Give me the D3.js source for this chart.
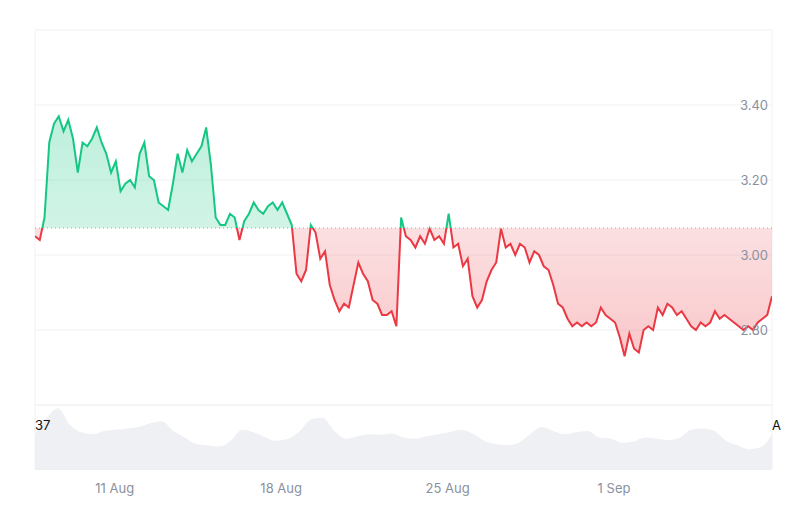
<!DOCTYPE html>
<html><head><meta charset="utf-8">
<script src="https://cdn.jsdelivr.net/npm/d3@7"></script>
<style>body{margin:0;background:#fff;font-family:Inter,"Noto Sans",sans-serif}</style>
</head><body><div id="chart"></div>
<script>
// price samples, evenly spaced between startTime and endTime
const startTime = new Date(2024, 7, 7, 16)
const endTime = new Date(2024, 8, 7, 16)
const prices = [3.05,3.04,3.10,3.30,3.35,3.37,3.33,3.36,3.31,3.22,3.30,3.29,3.31,3.34,3.30,3.27,3.22,3.25,3.17,3.19,3.20,3.18,3.27,3.30,3.21,3.20,3.14,3.13,3.12,3.19,3.27,3.22,3.28,3.25,3.27,3.29,3.34,3.24,3.10,3.08,3.08,3.11,3.10,3.04,3.09,3.11,3.14,3.12,3.11,3.13,3.14,3.12,3.14,3.11,3.08,2.95,2.93,2.96,3.08,3.06,2.99,3.01,2.92,2.88,2.85,2.87,2.86,2.92,2.98,2.95,2.93,2.88,2.87,2.84,2.84,2.85,2.81,3.10,3.05,3.04,3.02,3.05,3.03,3.07,3.04,3.05,3.03,3.11,3.02,3.03,2.97,2.99,2.89,2.86,2.88,2.93,2.96,2.98,3.07,3.02,3.03,3.00,3.03,3.02,2.98,3.01,3.00,2.97,2.96,2.92,2.87,2.86,2.83,2.81,2.82,2.81,2.82,2.81,2.82,2.86,2.84,2.83,2.82,2.78,2.73,2.79,2.75,2.74,2.80,2.81,2.80,2.86,2.84,2.87,2.86,2.84,2.85,2.83,2.81,2.80,2.82,2.81,2.82,2.85,2.83,2.84,2.83,2.82,2.81,2.80,2.81,2.80,2.82,2.83,2.84,2.89]
const basePrice = 3.072
// volume shape (relative), evenly spaced over the same range
const volumes = [55,80,95,70,58,55,60,62,64,66,72,75,60,50,40,38,36,45,62,58,50,45,48,60,78,80,60,48,52,55,54,56,50,48,52,55,58,62,56,45,40,38,42,55,66,60,55,58,60,50,48,42,44,50,48,46,50,62,64,60,45,38,32,35,55]
const yTicks = [2.80,3.00,3.20,3.40]
const xTicks = [new Date(2024,7,11), new Date(2024,7,18), new Date(2024,7,25), new Date(2024,8,1)]

const W = 800, H = 525, L = 35, R = 772, T = 30, B = 405, VB = 470
const step = (endTime - startTime) / (prices.length - 1)
const data = prices.map((v,i) => ({t: new Date(+startTime + i*step), v}))

const x = d3.scaleTime().domain([startTime, endTime]).range([L, R])
const y = d3.scaleLinear().domain([2.60, 3.60]).range([B, T])
const vx = d3.scaleLinear().domain([0, volumes.length-1]).range([L, R])
const vy = d3.scaleLinear().domain([0, 100]).range([VB, B])

const svg = d3.select("#chart").append("svg").attr("width", W).attr("height", H)
const defs = svg.append("defs")
const gg = defs.append("linearGradient").attr("id","gGreen").attr("x1",0).attr("x2",0).attr("y1",0).attr("y2",1)
gg.append("stop").attr("offset","0%").attr("stop-color","#16c784").attr("stop-opacity",0.28)
gg.append("stop").attr("offset","100%").attr("stop-color","#16c784").attr("stop-opacity",0.1)
const gr = defs.append("linearGradient").attr("id","gRed").attr("x1",0).attr("x2",0).attr("y1",0).attr("y2",1)
gr.append("stop").attr("offset","0%").attr("stop-color","#ea3943").attr("stop-opacity",0.05)
gr.append("stop").attr("offset","100%").attr("stop-color","#ea3943").attr("stop-opacity",0.28)
defs.append("clipPath").attr("id","above").append("rect").attr("x",L).attr("y",0).attr("width",R-L).attr("height",y(basePrice))
defs.append("clipPath").attr("id","below").append("rect").attr("x",L).attr("y",y(basePrice)).attr("width",R-L).attr("height",H)

// grid
svg.selectAll(".grid").data(yTicks.concat([3.60])).enter().append("line")
  .attr("x1",L).attr("x2",R).attr("y1",d=>y(d)).attr("y2",d=>y(d))
  .attr("stroke","#eff1f4").attr("stroke-width",1)
svg.append("line").attr("x1",L).attr("x2",R).attr("y1",B).attr("y2",B).attr("stroke","#e8eaee")
svg.append("line").attr("x1",L).attr("x2",L).attr("y1",T).attr("y2",VB).attr("stroke","#f1f2f4")
svg.append("line").attr("x1",R).attr("x2",R).attr("y1",T).attr("y2",VB).attr("stroke","#f1f2f4")

// volume
svg.append("path").datum(volumes)
  .attr("d", d3.area().x((d,i)=>vx(i)).y0(VB).y1(d=>vy(d)).curve(d3.curveMonotoneX))
  .attr("fill","#eef0f3")

// price fills
const area = d3.area().x(d=>x(d.t)).y0(y(basePrice)).y1(d=>y(d.v))
const line = d3.line().x(d=>x(d.t)).y(d=>y(d.v))
svg.append("path").datum(data).attr("d",area).attr("fill","url(#gGreen)").attr("clip-path","url(#above)")
svg.append("path").datum(data).attr("d",area).attr("fill","url(#gRed)").attr("clip-path","url(#below)")
svg.append("line").attr("x1",L).attr("x2",R).attr("y1",y(basePrice)).attr("y2",y(basePrice))
  .attr("stroke","#9ca3af").attr("stroke-width",1).attr("stroke-dasharray","1,3")
svg.append("path").datum(data).attr("d",line).attr("fill","none").attr("stroke","#16c784").attr("stroke-width",2).attr("clip-path","url(#above)")
svg.append("path").datum(data).attr("d",line).attr("fill","none").attr("stroke","#ea3943").attr("stroke-width",2).attr("clip-path","url(#below)")

// y labels
svg.selectAll(".yl").data(yTicks).enter().append("text")
  .attr("x",768).attr("y",d=>y(d)+5).attr("text-anchor","end")
  .attr("fill","#8a919e").attr("font-size",13).text(d=>d.toFixed(2))

// x axis
const xa = svg.append("g").attr("transform",`translate(0,${VB})`)
  .call(d3.axisBottom(x).tickValues(xTicks).tickFormat(d3.timeFormat("%-d %b")).tickSize(0).tickPadding(14))
xa.select(".domain").remove()
xa.selectAll("text").attr("fill","#8a919e").attr("font-size",13).attr("font-family","Inter,'Noto Sans',sans-serif")

svg.append("text").attr("x",35).attr("y",430).attr("font-size",13).attr("fill","#111").text("37")
svg.append("text").attr("x",772).attr("y",430).attr("font-size",13).attr("fill","#111").text("A")
</script></body></html>
